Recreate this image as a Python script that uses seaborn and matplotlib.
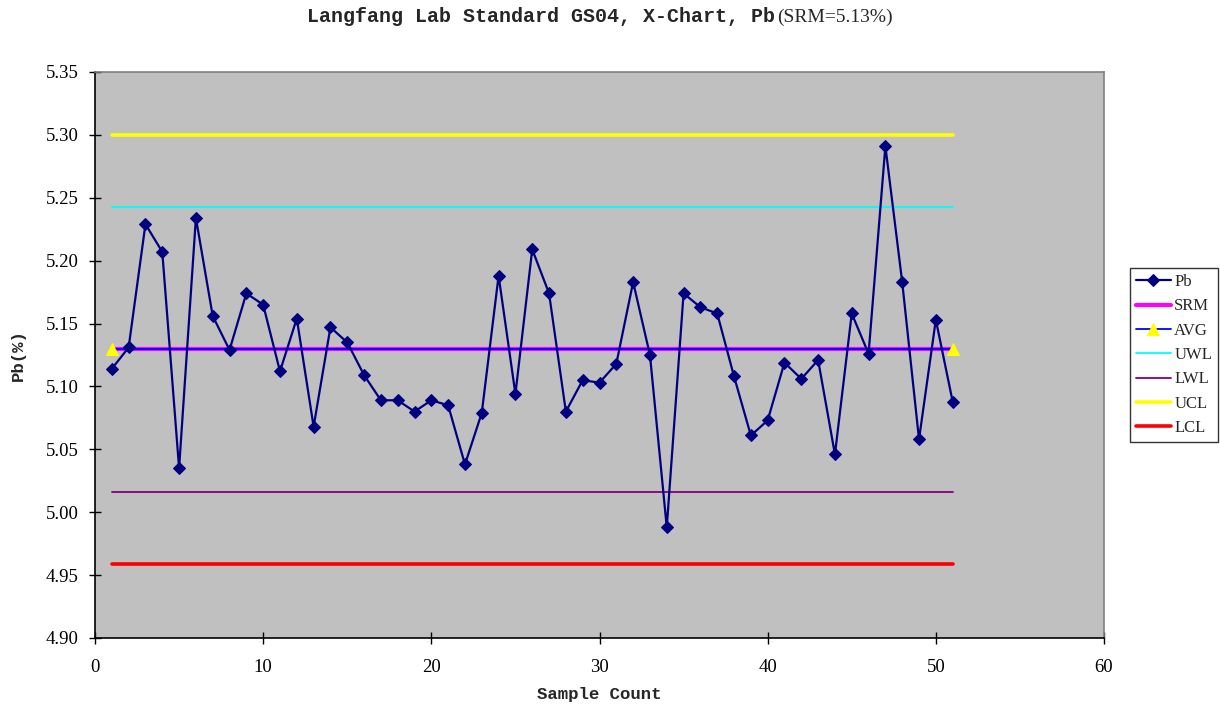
import matplotlib
matplotlib.use("Agg")
import matplotlib.pyplot as plt
import seaborn as sns
import numpy as np
import pandas as pd

# Pb measurements for standard GS04, in sample order
sample = list(range(1, 52))
pb = [5.114, 5.131, 5.229, 5.207, 5.035, 5.234, 5.156, 5.129, 5.174, 5.165,
      5.112, 5.154, 5.068, 5.147, 5.135, 5.109, 5.089, 5.089, 5.080, 5.089,
      5.085, 5.038, 5.079, 5.188, 5.094, 5.209, 5.174, 5.080, 5.105, 5.103,
      5.118, 5.183, 5.125, 4.988, 5.174, 5.163, 5.158, 5.108, 5.061, 5.073,
      5.119, 5.106, 5.121, 5.046, 5.158, 5.126, 5.291, 5.183, 5.058, 5.153,
      5.088]

# Reference and control limits
srm = 5.13
avg = 5.130
uwl = 5.243
lwl = 5.016
ucl = 5.300
lcl = 4.959
limit_x = [1, 51]

y_ticks = [4.90, 4.95, 5.00, 5.05, 5.10, 5.15, 5.20, 5.25, 5.30, 5.35]
x_ticks = [0, 10, 20, 30, 40, 50, 60]

sns.set_style("white")
plt.rcParams["font.family"] = ["Liberation Serif", "DejaVu Sans"]

fig = plt.figure(figsize=(12.2, 7.06), dpi=100)
ax = fig.add_axes([95 / 1220, 1 - 638 / 706, (1104 - 95) / 1220, (638 - 72) / 706])
ax.set_facecolor("#C0C0C0")

df = pd.DataFrame({"sample": sample, "Pb": pb})

def hline(value, color, lw, label, z, **kw):
    d = pd.DataFrame({"x": limit_x, "y": [value, value]})
    sns.lineplot(data=d, x="x", y="y", color=color, linewidth=lw, label=label,
                 ax=ax, zorder=z, **kw)

sns.lineplot(data=df, x="sample", y="Pb", color="#000080", linewidth=1.6,
             marker="D", markersize=6, markeredgecolor="#000080",
             markerfacecolor="#000080", label="Pb", ax=ax, zorder=10)
hline(srm, "#FF00FF", 3.0, "SRM", 4)
hline(avg, "#0000FF", 1.3, "AVG", 5, marker="^", markersize=8,
      markerfacecolor="#FFFF00", markeredgecolor="#FFFF00")
hline(uwl, "#00FFFF", 1.3, "UWL", 4)
hline(lwl, "#800080", 1.3, "LWL", 4)
hline(ucl, "#FFFF00", 2.6, "UCL", 4)
hline(lcl, "#FF0000", 2.6, "LCL", 4)

ax.set_xlim(0, 60)
ax.set_ylim(4.90, 5.35)
ax.set_xticks(x_ticks)
ax.set_yticks(y_ticks)
ax.set_xticklabels([str(t) for t in x_ticks], fontsize=13.5)
ax.set_yticklabels([f"{t:.2f}" for t in y_ticks], fontsize=13.5)
ax.tick_params(axis="both", direction="inout", length=8, width=1, colors="black",
               left=True, bottom=True)
ax.tick_params(axis="y", pad=8)
ax.tick_params(axis="x", pad=11)

for side in ("top", "right"):
    ax.spines[side].set_color("#808080")
    ax.spines[side].set_linewidth(1.2)
for side in ("left", "bottom"):
    ax.spines[side].set_color("black")
    ax.spines[side].set_linewidth(1.2)
    ax.spines[side].set_visible(True)
ax.spines["top"].set_visible(True)
ax.spines["right"].set_visible(True)

ax.set_xlabel("Sample Count", family=["Liberation Mono", "DejaVu Sans"],
              fontweight="bold", fontsize=12.5, labelpad=8)
ax.set_ylabel("Pb(%)", family=["Liberation Mono", "DejaVu Sans"],
              fontweight="bold", fontsize=12.5, labelpad=14)

fig.text(775 / 1220, 1 - 17 / 706, "Langfang Lab Standard GS04, X-Chart, Pb",
         family=["Liberation Mono", "DejaVu Sans"], fontweight="bold",
         fontsize=14.4, ha="right", va="center")
fig.text(777 / 1220, 1 - 17 / 706, "(SRM=5.13%)", fontsize=14,
         ha="left", va="center")

leg = ax.legend(loc="center left", bbox_to_anchor=(1130 / 1220, 1 - 355 / 706),
                bbox_transform=fig.transFigure, frameon=True, fancybox=False,
                edgecolor="black", fontsize=12, handlelength=2.1,
                handletextpad=0.2, labelspacing=0.5, borderpad=0.35,
                borderaxespad=0)
leg.get_frame().set_linewidth(1.0)

fig.savefig("out.png", dpi=100, facecolor="white")
